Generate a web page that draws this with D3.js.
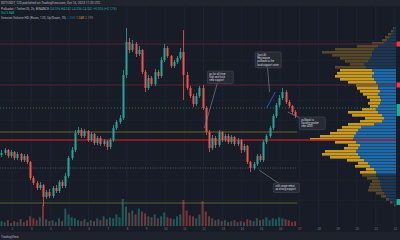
<!DOCTYPE html>
<html>
<head>
<meta charset="utf-8">
<script src="https://cdn.jsdelivr.net/npm/d3@7"></script>
<style>
  html, body { margin: 0; padding: 0; background: #181c27; }
  svg { display: block; font-family: "Roboto", "DejaVu Sans", sans-serif; }
</style>
</head>
<body>
<div id="chart"></div>
<script>
// 4h candles, day numbers on the x axis
var startDay = 1.45;
var candlesPerDay = 6;

var closes = [67,70,64,68,62,66,60,64,58,42,37,32,35,23,28,24,32,29,38,34,
  44,62,70,87,90,84,89,80,86,77,82,76,79,73,80,92,98,102,145,178,
  170,176,166,170,148,132,142,136,148,144,160,172,164,154,158,162,168,145,132,124,
  116,124,132,112,88,72,82,75,88,80,84,78,83,76,80,70,74,58,52,56,
  64,60,78,84,92,104,115,122,128,118,114,108,104];
var firstOpen = 65;
var highs = [70,72,71,70,69,68,67,66,66,59,44,39,38,36,30,31,34,35,40,40,
  47,64,73,90,93,92,91,90,88,87,84,84,81,80,82,95,100,105,150,192,
  182,180,178,174,171,150,145,144,151,150,163,176,174,165,160,164,172,190,148,134,
  126,127,134,135,114,90,85,84,90,89,86,86,85,84,82,81,76,75,59,58,
  66,66,80,86,94,106,117,125,132,130,120,115,110];
var lows = [63,65,62,62,60,60,58,58,56,40,35,30,30,14,21,22,22,27,27,32,
  32,42,60,68,85,82,82,78,78,75,75,74,74,70,71,78,90,96,100,142,
  167,168,163,164,146,128,130,134,134,141,142,158,162,152,152,156,160,120,130,122,
  113,114,122,110,85,68,70,72,73,78,78,76,76,74,74,67,68,56,48,50,
  54,58,58,76,82,90,102,113,120,116,112,106,102];
var volumes = [5,4,6,3,5,4,7,4,6,10,8,6,9,22,7,5,6,4,8,5,
  18,12,9,8,6,5,7,4,6,5,8,6,10,7,9,8,12,9,28,20,
  14,16,12,18,15,13,10,9,12,8,10,14,9,8,7,10,12,27,16,11,
  10,8,12,26,15,10,8,6,7,5,6,4,5,6,4,5,4,7,6,5,
  8,6,7,9,6,8,7,9,8,7,6,4,5];

// session volume profile, rows of 3 price units from the top
var profileTop = 193;
var profileStep = 3;
var profileTotal = [3,5,8,11,14,24,39,61,74,64,56,51,46,61,56,59,61,56,48,40,
  39,36,33,29,26,28,26,34,48,44,31,36,48,54,59,66,76,86,61,48,
  52,71,74,66,49,38,41,30,36,34,29,24,26,27,28,20,15,10,6,2];
var profileUp = [2,3,5,7,9,12,18,22,24,24,26,28,32,30,24,22,24,22,20,18,
  18,16,18,16,15,16,18,20,18,14,12,14,22,35,38,40,42,43,40,36,
  38,40,38,36,32,28,26,22,20,20,18,16,16,15,14,12,10,7,4,1];
var valueAreaHigh = 151;
var valueAreaLow = 48;

var dayTicks = d3.range(2, 23);

// levels drawn on the chart
var levels = [
  { price: 176, color: "#552431", width: 1, dash: null, full: true },
  { price: 135, color: "#552431", width: 1, dash: null, full: true },
  { price: 112, color: "#2a6e52", width: 1, dash: "1,2", full: true },
  { price: 88, color: "#66632b", width: 1, dash: null, full: false },
  { price: 80, color: "#a01f2c", width: 1.5, dash: null, full: true },
  { price: 52, color: "#50535e", width: 1, dash: "1,1.5", full: false },
  { price: 17, color: "#56622a", width: 1, dash: null, full: false }
];
var scaleMarks = [
  { price: 176, color: "#f23645", h: 5 },
  { price: 135, color: "#f23645", h: 5 },
  { price: 110, color: "#22ab94", h: 12 },
  { price: 18, color: "#22ab94", h: 6 }
];

var notes = [
  { day: 12.2, price: 149, lines: ["go for all-time", "high and hold", "near support"], toDay: 12.05, toPrice: 92 },
  { day: 14.7, price: 168, lines: ["Spot 4h", "Resistance", "pullback to the", "local support zone"], toDay: 15.45, toPrice: 128 },
  { day: 17.0, price: 103, lines: ["pullback to", "liquidity pocket", "near 4000"], toDay: 16.4, toPrice: 108 },
  { day: 15.65, price: 37, lines: ["with range retest", "as strong support"], toDay: 14.9, toPrice: 50 }
];
var trendFrom = { day: 15.3, price: 112 };
var trendTo = { day: 15.75, price: 128 };

var w = 400, h = 240;

var svg = d3.select("#chart").append("svg")
  .attr("width", w)
  .attr("height", h);

svg.append("rect").attr("width", w).attr("height", h).attr("fill", "#181c27");

var xscale = d3.scaleLinear().domain([2, 22]).range([12, 395]);
var yscale = d3.scaleLinear().domain([0, 200]).range([220, 20]);
var vscale = d3.scaleLinear().domain([0, 28]).range([226, 199]);
var pscale = d3.scaleLinear().domain([0, 86]).range([396, 310]);

// grid
svg.append("g").selectAll("line")
  .data(dayTicks)
  .enter().append("line")
  .attr("x1", function(d){ return xscale(d); })
  .attr("x2", function(d){ return xscale(d); })
  .attr("y1", 6).attr("y2", 226)
  .attr("stroke", "#1f2330").attr("stroke-width", 1);

svg.append("g").selectAll("line")
  .data(d3.range(20, 200, 20))
  .enter().append("line")
  .attr("x1", 0).attr("x2", 396)
  .attr("y1", function(d){ return Math.round(yscale(d)) + 0.5; })
  .attr("y2", function(d){ return Math.round(yscale(d)) + 0.5; })
  .attr("stroke", "#1c202b").attr("stroke-width", 1);

// volume profile
var rows = profileTotal.map(function(v, i){
  var top = profileTop - i * profileStep;
  return { top: top, bottom: top - profileStep, total: v, up: profileUp[i] };
});
var inVA = function(r){ return r.bottom < valueAreaHigh && r.top > valueAreaLow; };

var gp = svg.append("g");
gp.selectAll("rect.down")
  .data(rows)
  .enter().append("rect")
  .attr("x", function(d){ return pscale(d.total); })
  .attr("y", function(d){ return yscale(d.top); })
  .attr("width", function(d){ return pscale(d.up) - pscale(d.total); })
  .attr("height", function(d){ return yscale(d.bottom) - yscale(d.top) - 0.4; })
  .attr("fill", function(d){ return inVA(d) ? "#c99a22" : "#54472a"; });
gp.selectAll("rect.up")
  .data(rows)
  .enter().append("rect")
  .attr("x", function(d){ return pscale(d.up); })
  .attr("y", function(d){ return yscale(d.top); })
  .attr("width", function(d){ return pscale(0) - pscale(d.up); })
  .attr("height", function(d){ return yscale(d.bottom) - yscale(d.top) - 0.4; })
  .attr("fill", function(d){ return inVA(d) ? "#1e6aa8" : "#1d3652"; });

// horizontal levels
svg.append("g").selectAll("line")
  .data(levels)
  .enter().append("line")
  .attr("x1", 0)
  .attr("x2", function(d){ return d.full ? 396 : xscale(16.9); })
  .attr("y1", function(d){ return yscale(d.price); })
  .attr("y2", function(d){ return yscale(d.price); })
  .attr("stroke", function(d){ return d.color; })
  .attr("stroke-width", function(d){ return d.width; })
  .attr("stroke-dasharray", function(d){ return d.dash; });

// volume bars
var candles = closes.map(function(c, i){
  var o = i === 0 ? firstOpen : closes[i - 1];
  return { t: startDay + i / candlesPerDay, o: o, c: c, hi: highs[i], lo: lows[i], v: volumes[i] };
});

svg.append("g").selectAll("rect")
  .data(candles)
  .enter().append("rect")
  .attr("x", function(d){ return xscale(d.t) - 1; })
  .attr("y", function(d){ return vscale(d.v); })
  .attr("width", 2)
  .attr("height", function(d){ return vscale(0) - vscale(d.v); })
  .attr("fill", function(d){ return d.c >= d.o ? "#26a69a" : "#ef5350"; })
  .attr("opacity", 0.45);

// candles
var gc = svg.append("g");
gc.selectAll("line")
  .data(candles)
  .enter().append("line")
  .attr("x1", function(d){ return Math.round(xscale(d.t)) + 0.5; })
  .attr("x2", function(d){ return Math.round(xscale(d.t)) + 0.5; })
  .attr("y1", function(d){ return yscale(d.hi); })
  .attr("y2", function(d){ return yscale(d.lo); })
  .attr("stroke", function(d){ return d.c >= d.o ? "#26a69a" : "#ef5350"; })
  .attr("stroke-width", 0.8);
gc.selectAll("rect")
  .data(candles)
  .enter().append("rect")
  .attr("x", function(d){ return Math.round(xscale(d.t)) - 0.5; })
  .attr("y", function(d){ return yscale(Math.max(d.o, d.c)); })
  .attr("width", 2)
  .attr("height", function(d){ return Math.max(1, Math.abs(yscale(d.o) - yscale(d.c))); })
  .attr("fill", function(d){ return d.c >= d.o ? "#26a69a" : "#ef5350"; });

// trend line
svg.append("line")
  .attr("x1", xscale(trendFrom.day)).attr("y1", yscale(trendFrom.price))
  .attr("x2", xscale(trendTo.day)).attr("y2", yscale(trendTo.price))
  .attr("stroke", "#2962ff").attr("stroke-width", 0.8);

// callouts
var gn = svg.append("g");
notes.forEach(function(n){
  var bx = xscale(n.day), by = yscale(n.price);
  var bw = 26, bh = 3 + n.lines.length * 3.2;
  gn.append("line")
    .attr("x1", bx + bw * 0.45).attr("y1", by + bh / 2)
    .attr("x2", xscale(n.toDay)).attr("y2", yscale(n.toPrice))
    .attr("stroke", "#787b86").attr("stroke-width", 0.7);
  gn.append("rect")
    .attr("x", bx).attr("y", by)
    .attr("width", bw).attr("height", bh)
    .attr("rx", 1.5)
    .attr("fill", "#262a35").attr("stroke", "#50535e").attr("stroke-width", 0.5);
  n.lines.forEach(function(t, j){
    gn.append("text")
      .attr("x", bx + 2).attr("y", by + 4 + j * 3.2)
      .attr("font-size", 2.6).attr("fill", "#d1d4dc")
      .text(t);
  });
});

// price scale marks
svg.append("g").selectAll("rect")
  .data(scaleMarks)
  .enter().append("rect")
  .attr("x", 396.5)
  .attr("y", function(d){ return yscale(d.price) - d.h / 2; })
  .attr("width", 4)
  .attr("height", function(d){ return d.h; })
  .attr("fill", function(d){ return d.color; });

// x axis
var xaxis = d3.axisBottom(xscale).tickValues(dayTicks).tickSize(0).tickPadding(0);
var gX = svg.append("g")
  .attr("transform", "translate(0,227)")
  .call(xaxis);
gX.select(".domain").remove();
gX.selectAll("text")
  .attr("font-size", 3.2)
  .attr("fill", "#787b86")
  .attr("dy", "0.9em");

// header and footer bands
svg.append("rect").attr("width", w).attr("height", 6).attr("fill", "#20242f");
svg.append("rect").attr("y", 232).attr("width", w).attr("height", 8).attr("fill", "#1e222d");

svg.append("text").attr("x", 1).attr("y", 4).attr("font-size", 3.2).attr("fill", "#b2b5be")
  .text("DOTUSDT, 120 published on TradingView.com, Oct 16, 2023 11:20 UTC");

var head = svg.append("text").attr("x", 1).attr("y", 10).attr("font-size", 3.2).attr("fill", "#b2b5be");
head.append("tspan").text("Polkadot / TetherUS, 2h, BINANCE  ");
head.append("tspan").attr("fill", "#26a69a").text("O4.036 H4.041 L4.036 C4.041 +0.005 (+0.12%)");
svg.append("text").attr("x", 1).attr("y", 14).attr("font-size", 3.2).attr("fill", "#26a69a")
  .text("Vol 3.84K");
var vp = svg.append("text").attr("x", 1).attr("y", 19).attr("font-size", 3.2).attr("fill", "#b2b5be");
vp.append("tspan").text("Session Volume HD (Rows, 120, Up/Down, 70)  ");
vp.append("tspan").attr("fill", "#1e6aa8").text("1.35K  ");
vp.append("tspan").attr("fill", "#c99a22").text("1.04K  ");
vp.append("tspan").attr("fill", "#787b86").text("2.39K");

svg.append("text").attr("x", 1).attr("y", 237.5).attr("font-size", 3.2).attr("fill", "#b2b5be")
  .text("TradingView");
</script>
</body>
</html>
